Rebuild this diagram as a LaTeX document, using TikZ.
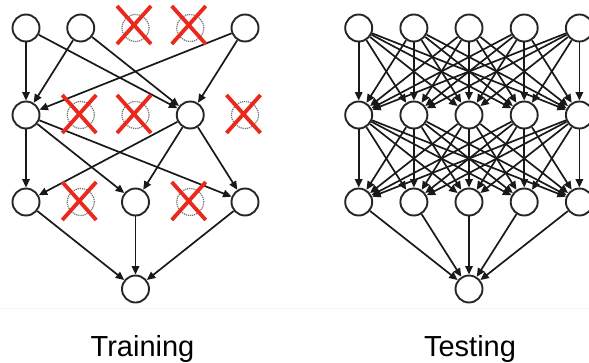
\documentclass[tikz,border=0pt]{standalone}
\usepackage{fontspec}
\setmainfont{Liberation Sans}
\usetikzlibrary{arrows.meta}
\definecolor{dropred}{RGB}{234,40,28}
\definecolor{rulecream}{RGB}{250,247,232}
\begin{document}
\begin{tikzpicture}[x=1pt,y=-1pt,
  neuron/.style={circle,draw=black!85,line width=1.9pt,minimum size=27pt,inner sep=0pt,fill=white},
  ghost/.style={circle,draw=black!55,dash pattern=on 1.2pt off 0.9pt,line width=1.2pt,minimum size=27pt,inner sep=0pt},
  link/.style={line width=1.7pt,draw=black!90,-{Triangle[length=8.5pt,width=7.5pt]}},
  cross/.style={dropred,line width=3.8pt},
  caption/.style={font=\fontsize{29}{32}\selectfont,anchor=base}]
\useasboundingbox (0,0) rectangle (589,362);
\clip (0,0) rectangle (589,362);

% ---------- Training network (dropout) ----------
% kept units
\node[neuron] (Lt1) at (26,28) {};
\node[neuron] (Lt2) at (80.75,28) {};
\node[neuron] (Lt5) at (245,28) {};
\node[neuron] (Lm1) at (26,115) {};
\node[neuron] (Lm4) at (190.25,115) {};
\node[neuron] (Lb1) at (26,202) {};
\node[neuron] (Lb3) at (135.5,202) {};
\node[neuron] (Lb5) at (245,202) {};
\node[neuron] (Lout) at (135.5,289) {};
% dropped units
\node[ghost] (Lt3) at (135.5,28) {};
\node[ghost] (Lt4) at (190.25,28) {};
\node[ghost] (Lm2) at (80.75,115) {};
\node[ghost] (Lm3) at (135.5,115) {};
\node[ghost] (Lm5) at (245,115) {};
\node[ghost] (Lb2) at (80.75,202) {};
\node[ghost] (Lb4) at (190.25,202) {};

\foreach \s in {Lt1,Lt2,Lt5}
  \foreach \d in {Lm1,Lm4}
    \draw[link] (\s) -- (\d);
\foreach \s in {Lm1,Lm4}
  \foreach \d in {Lb1,Lb3,Lb5}
    \draw[link] (\s) -- (\d);
\foreach \s in {Lb1,Lb3,Lb5}
  \draw[link] (\s) -- (Lout);

% red crosses over the dropped units
\foreach \n/\dx/\dy in {Lt3/-1.5/-3,Lt4/-1.5/-3,Lm2/-1.5/-1,Lm3/-1.5/-1,Lm5/-1.5/-1,Lb2/-1.5/-1,Lb4/-1.5/-1} {
  \draw[cross] ([shift={(\dx-17,\dy-19)}]\n.center) -- ([shift={(\dx+17,\dy+19)}]\n.center);
  \draw[cross] ([shift={(\dx+17,\dy-19)}]\n.center) -- ([shift={(\dx-17,\dy+19)}]\n.center);
}

% ---------- Testing network (all units) ----------
\foreach \i/\x in {1/358.7,2/413.9,3/469,4/524.2,5/579.4} {
  \node[neuron] (Rt\i) at (\x,28) {};
  \node[neuron] (Rm\i) at (\x,115) {};
  \node[neuron] (Rb\i) at (\x,202) {};
}
\node[neuron] (Rout) at (469,289) {};

\foreach \s in {1,...,5}
  \foreach \d in {1,...,5} {
    \draw[link] (Rt\s) -- (Rm\d);
    \draw[link] (Rm\s) -- (Rb\d);
  }
\foreach \s in {1,...,5}
  \draw[link] (Rb\s) -- (Rout);

% faint separator and captions
\draw[rulecream,line width=1pt] (0,308) -- (589,308);
\node[caption] (trainlbl) at (142.5,356) {Training};
\node[caption] (testlbl) at (470,356) {Testing};
\end{tikzpicture}
\end{document}
